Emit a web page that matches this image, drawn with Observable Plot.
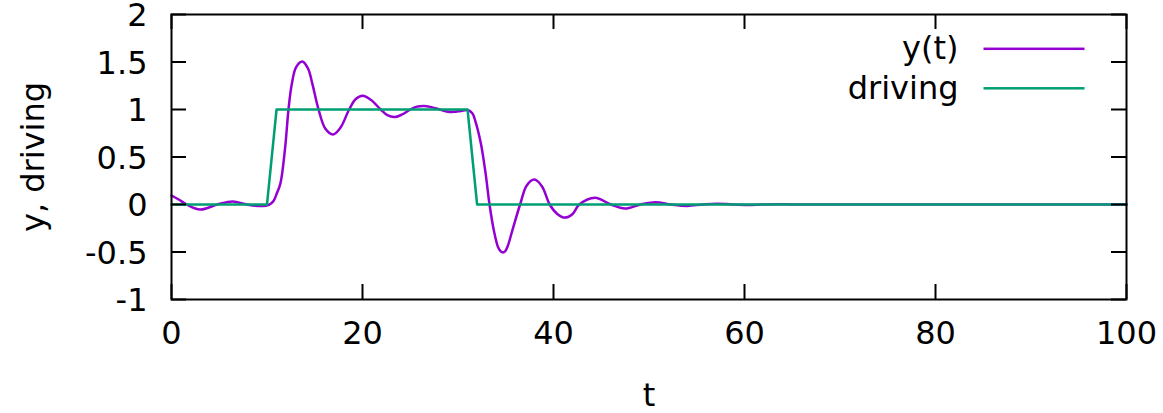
<!DOCTYPE html>
<html><head><meta charset="utf-8">
<script src="https://cdn.jsdelivr.net/npm/d3@7"></script>
<script src="https://cdn.jsdelivr.net/npm/@observablehq/plot@0.6"></script>
<style>html,body{margin:0;padding:0;background:#fff}</style>
</head><body><div id="chart"></div>
<script>
// Response y(t)
const respT = [0, 0.8, 1.6, 3.0, 4.8, 6.4, 7.9, 9.3, 10.2, 10.7, 11.0, 11.4, 11.9, 12.25, 12.6, 13.05, 13.7, 14.3, 14.75, 15.4, 16.1, 16.9, 17.7, 18.6, 19.3, 20.0, 20.9, 21.9, 22.6, 23.35, 24.1, 25.0, 25.7, 26.45, 27.2, 28.1, 28.8, 29.5, 30.3, 31.0, 31.5, 31.8, 32.4, 32.9, 33.3, 33.75, 34.2, 34.45, 34.7, 34.95, 35.2, 35.7, 36.5, 37.2, 38.0, 38.8, 39.6, 40.4, 41.2, 42.0, 42.7, 44.35, 46.0, 47.5, 49.1, 50.7, 52.3, 54.0, 55.6, 57.1, 58.7, 60.3, 61.9, 63.5, 65.1, 70, 80, 90, 100];
const respY = [0.095, 0.05, 0, -0.053, 0, 0.032, 0, -0.017, -0.005, 0.04, 0.11, 0.22, 0.6, 1.0, 1.27, 1.445, 1.505, 1.43, 1.27, 1.0, 0.8, 0.737, 0.81, 1.0, 1.11, 1.144, 1.1, 1.0, 0.94, 0.92, 0.945, 1.0, 1.03, 1.038, 1.025, 1.0, 0.98, 0.975, 0.985, 0.995, 0.96, 0.884, 0.64, 0.32, 0, -0.27, -0.45, -0.49, -0.505, -0.49, -0.44, -0.27, 0, 0.2, 0.262, 0.19, 0, -0.1, -0.138, -0.1, 0, 0.072, 0, -0.043, 0, 0.025, 0, -0.015, 0, 0.009, 0, -0.005, 0, 0.003, 0, 0, 0, 0, 0];
// Driving signal
const driveT = [0, 10, 11, 31, 32, 100];
const driveY = [0, 0, 1, 1, 0, 0];
// Axes
const xTicks = [0, 20, 40, 60, 80, 100];
const yTicks = [-1, -0.5, 0, 0.5, 1, 1.5, 2];
const xDomain = [0, 100];
const yDomain = [-1, 2];
const seriesNames = ["y(t)", "driving"];
const seriesColors = ["#9400d3", "#009e73"];
const xLabel = "t";
const yLabel = "y, driving";

const resp = respT.map((t, i) => ({t, v: respY[i]}));
const drive = driveT.map((t, i) => ({t, v: driveY[i]}));

const W = 1163, H = 413, mL = 171, mR = 37, mT = 14, mB = 114;
const fw = W - mL - mR, fh = H - mT - mB;
const fs = 32;
const tickLen = 15;
const fmt = d => String(d);

// legend geometry (pixels)
const legTextRight = 958, legLineL = 983, legLineR = 1084;
const legRows = [48.3, 87.8];
const lineW = 2.5;

const legendMarks = [];
seriesNames.forEach((name, i) => {
  legendMarks.push(Plot.text([name], {
    text: d => d, frameAnchor: "top-right", textAnchor: "end", lineAnchor: "middle",
    dx: legTextRight - (W - mR), dy: legRows[i] - mT, fontSize: fs, fill: "#000"
  }));
  legendMarks.push(Plot.frame({
    fill: seriesColors[i], stroke: "none",
    insetLeft: legLineL - mL, insetRight: (W - mR) - legLineR,
    insetTop: legRows[i] - lineW / 2 - mT, insetBottom: (H - mB) - (legRows[i] + lineW / 2)
  }));
});

const chart = Plot.plot({
  width: W, height: H,
  marginLeft: mL, marginRight: mR, marginTop: mT, marginBottom: mB,
  style: {fontFamily: "DejaVu Sans", background: "#fff", color: "#000"},
  x: {domain: xDomain},
  y: {domain: yDomain},
  marks: [
    Plot.line(resp, {x: "t", y: "v", stroke: seriesColors[0], strokeWidth: lineW, curve: "catmull-rom"}),
    Plot.line(drive, {x: "t", y: "v", stroke: seriesColors[1], strokeWidth: lineW}),
    Plot.tickX(xTicks, {x: d => d, insetTop: fh - tickLen, stroke: "#000", strokeWidth: 2}),
    Plot.tickX(xTicks, {x: d => d, insetBottom: fh - tickLen, stroke: "#000", strokeWidth: 2}),
    Plot.tickY(yTicks, {y: d => d, insetRight: fw - tickLen, stroke: "#000", strokeWidth: 2}),
    Plot.tickY(yTicks, {y: d => d, insetLeft: fw - tickLen, stroke: "#000", strokeWidth: 2}),
    Plot.frame({stroke: "#000", strokeWidth: 2}),
    Plot.axisX(xTicks, {tickSize: 0, tickPadding: 22, fontSize: fs, tickFormat: fmt, label: null}),
    Plot.axisY(yTicks, {tickSize: 0, tickPadding: 24, fontSize: fs, tickFormat: fmt, label: null, dy: 1.5}),
    Plot.text([xLabel], {text: d => d, frameAnchor: "bottom", lineAnchor: "middle", textAnchor: "middle", dy: 96, fontSize: fs, fill: "#000"}),
    Plot.text([yLabel], {text: d => d, frameAnchor: "left", textAnchor: "middle", lineAnchor: "middle", dx: -138, rotate: -90, fontSize: fs, fill: "#000"}),
    ...legendMarks
  ]
});
document.getElementById("chart").appendChild(chart);
</script>
</body></html>
